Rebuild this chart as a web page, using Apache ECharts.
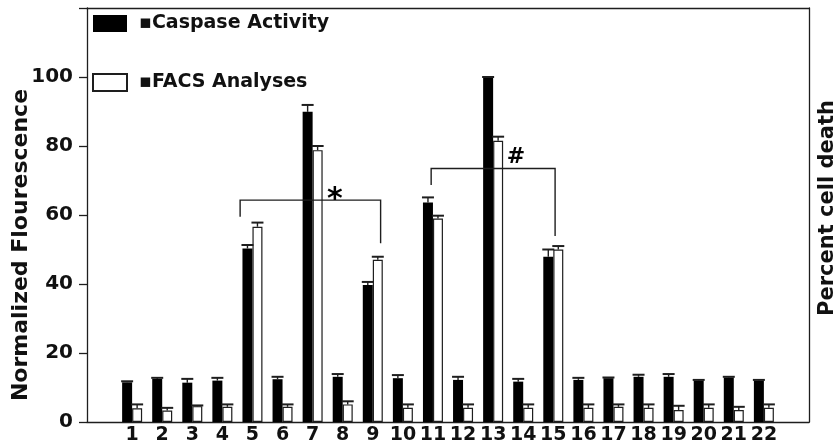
<!DOCTYPE html>
<html>
<head>
<meta charset="utf-8">
<script src="https://cdn.jsdelivr.net/npm/echarts@6/dist/echarts.min.js"></script>
<style>
  html, body { margin: 0; padding: 0; background: #fff; }
  #chart { width: 838px; height: 447px; }
</style>
</head>
<body>
<div id="chart"></div>
<script>
// Sample numbers along the x axis
const categories = ['1','2','3','4','5','6','7','8','9','10','11','12','13','14','15','16','17','18','19','20','21','22'];

// Caspase activity (normalized fluorescence) and its error
const caspase    = [11.5, 12.5, 11.4, 12.0, 50.3, 12.4, 89.9, 13.1, 39.7, 12.7, 63.6, 12.2, 100, 11.7, 47.9, 12.2, 12.7, 13.1, 13.1, 12.0, 12.9, 12.0];
const caspaseErr = [0.3, 0.3, 1.1, 0.8, 1.0, 0.7, 2.0, 0.8, 0.9, 0.9, 1.5, 0.9, 0, 0.8, 2.1, 0.6, 0.2, 0.6, 0.8, 0.2, 0.2, 0.2];

// FACS analyses (percent cell death) and its error
const facs    = [4.0, 3.3, 4.6, 4.4, 56.6, 4.4, 78.8, 5.1, 47.0, 4.1, 59.0, 4.1, 81.5, 4.1, 50.0, 4.1, 4.4, 4.1, 3.5, 4.1, 3.5, 4.1];
const facsErr = [1.1, 0.8, 0.2, 0.7, 1.2, 0.7, 1.2, 0.9, 0.9, 1.0, 0.8, 1.0, 1.2, 1.0, 1.0, 1.0, 0.7, 1.0, 1.2, 1.0, 0.9, 1.0];

// y axis ticks
const yTicks = [0, 20, 40, 60, 80, 100, 120];

// Significance brackets: [left x, right x, bar level, left foot, right foot] in axis units
const brackets = [
  [4.59, 9.26, 64.3, 59.5, 51.8],
  [10.94, 15.06, 73.5, 68.7, 53.9]
];
const bracketMarks = ['*', '#'];
const bracketMarkPos = [[7.74, 66.4], [13.76, 76.8]];

// one empty slot on each side of the samples
const axisCats = [''].concat(categories, ['']);
const pad = arr => [null].concat(arr, [null]);

const FONT = 'DejaVu Sans';
const INK = '#1e1e1e';
const BAR_W = 10;

function errorData(vals, errs) {
  return vals.map((v, i) => [i + 1, v, errs[i]]);
}

function errorBars(offset) {
  return function (params, api) {
    const x = api.value(0), v = api.value(1), e = api.value(2);
    const base = api.coord([x, v]);
    const top = api.coord([x, v + e]);
    const cx = base[0] + offset;
    const half = 6;
    return {
      type: 'group',
      children: [
        { type: 'line', shape: { x1: cx, y1: base[1], x2: cx, y2: top[1] },
          style: { stroke: INK, lineWidth: 1.4 } },
        { type: 'line', shape: { x1: cx - half, y1: top[1], x2: cx + half, y2: top[1] },
          style: { stroke: INK, lineWidth: 2 } }
      ]
    };
  };
}

const chart = echarts.init(document.getElementById('chart'), null, { renderer: 'canvas' });

chart.setOption({
  animation: false,
  backgroundColor: '#fff',
  grid: { left: 87, right: 29, top: 8, bottom: 25, containLabel: false, outerBoundsMode: 'none' },
  legend: {
    left: 87,
    top: 9,
    orient: 'vertical',
    itemWidth: 34,
    itemHeight: 17,
    itemGap: 40,
    selectedMode: false,
    icon: 'rect',
    formatter: name => '\u25AA' + name,
    textStyle: { fontFamily: FONT, fontWeight: 'bold', fontSize: 19, color: '#111', padding: [0, 0, 0, 7] },
    data: ['Caspase Activity', 'FACS Analyses']
  },
  xAxis: [
    {
      type: 'category',
      data: axisCats,
      position: 'bottom',
      axisLine: { onZero: false, lineStyle: { color: INK, width: 1.3 } },
      axisTick: { show: false },
      axisLabel: { interval: 0, margin: 4, fontFamily: FONT, fontWeight: 'bold', fontSize: 19, color: '#111' }
    },
    {
      type: 'category',
      data: axisCats,
      position: 'top',
      axisLine: { show: true, onZero: false, lineStyle: { color: INK, width: 1.3 } },
      axisTick: { show: false },
      axisLabel: { show: false }
    },
    {
      type: 'value',
      min: -0.5,
      max: 23.5,
      show: false
    }
  ],
  yAxis: [
    {
      type: 'value',
      min: yTicks[0],
      max: yTicks[yTicks.length - 1],
      interval: 20,
      name: 'Normalized Flourescence',
      nameLocation: 'middle',
      nameGap: 55,
      nameMoveOverlap: false,
      nameTextStyle: { fontFamily: FONT, fontWeight: 'bold', fontSize: 22, color: '#111', padding: [0, 60, 0, 0] },
      axisLine: { show: true, onZero: false, lineStyle: { color: INK, width: 1.3 } },
      axisTick: { show: true, inside: false, length: 8, lineStyle: { color: INK, width: 1.3 } },
      splitLine: { show: false },
      axisLabel: {
        margin: 14,
        fontFamily: FONT, fontWeight: 'bold', fontSize: 20, color: '#111',
        formatter: v => (v === 120 ? '' : String(v))
      }
    },
    {
      type: 'value',
      position: 'right',
      min: 0,
      max: 120,
      name: 'Percent cell death',
      nameLocation: 'middle',
      nameRotate: 90,
      nameGap: 8,
      nameMoveOverlap: false,
      nameTextStyle: { fontFamily: FONT, fontWeight: 'bold', fontSize: 21, color: '#111', padding: [0, 0, 0, 14] },
      axisLine: { show: true, onZero: false, lineStyle: { color: INK, width: 1.3 } },
      axisTick: { show: false },
      axisLabel: { show: false },
      splitLine: { show: false }
    }
  ],
  series: [
    {
      name: 'Caspase Activity',
      type: 'bar',
      xAxisIndex: 0,
      yAxisIndex: 0,
      barWidth: BAR_W,
      barGap: '0%',
      data: pad(caspase),
      itemStyle: { color: '#000' },
      z: 2
    },
    {
      name: 'FACS Analyses',
      type: 'bar',
      xAxisIndex: 0,
      yAxisIndex: 0,
      barWidth: BAR_W,
      barGap: '0%',
      data: pad(facs),
      itemStyle: { color: '#fff', borderColor: INK, borderWidth: 1.2 },
      z: 2
    },
    {
      type: 'custom',
      xAxisIndex: 0,
      yAxisIndex: 0,
      data: errorData(caspase, caspaseErr),
      encode: { x: 0, y: 1 },
      renderItem: errorBars(-BAR_W / 2),
      z: 3,
      silent: true
    },
    {
      type: 'custom',
      xAxisIndex: 0,
      yAxisIndex: 0,
      data: errorData(facs, facsErr),
      encode: { x: 0, y: 1 },
      renderItem: errorBars(BAR_W / 2),
      z: 3,
      silent: true
    },
    {
      type: 'custom',
      xAxisIndex: 2,
      yAxisIndex: 0,
      data: brackets,
      encode: { x: [0, 1], y: [2, 3, 4] },
      renderItem: function (params, api) {
        const pL = api.coord([api.value(0), api.value(2)]);
        const pR = api.coord([api.value(1), api.value(2)]);
        const footL = api.coord([api.value(0), api.value(3)]);
        const footR = api.coord([api.value(1), api.value(4)]);
        return {
          type: 'polyline',
          shape: { points: [[footL[0], footL[1]], pL, pR, [footR[0], footR[1]]] },
          style: { stroke: INK, lineWidth: 1.4, fill: null }
        };
      },
      z: 4,
      silent: true
    },
    {
      type: 'custom',
      xAxisIndex: 2,
      yAxisIndex: 0,
      data: bracketMarkPos,
      encode: { x: 0, y: 1 },
      renderItem: function (params, api) {
        const p = api.coord([api.value(0), api.value(1)]);
        const mark = bracketMarks[params.dataIndex];
        const star = mark === '*';
        return {
          type: 'text',
          x: p[0],
          y: p[1] + (star ? 7 : 0),
          style: {
            text: mark,
            font: 'bold ' + (star ? 30 : 22) + 'px "' + FONT + '"',
            fill: '#000',
            align: 'center',
            verticalAlign: 'middle'
          }
        };
      },
      z: 5,
      silent: true
    }
  ]
});
</script>
</body>
</html>
